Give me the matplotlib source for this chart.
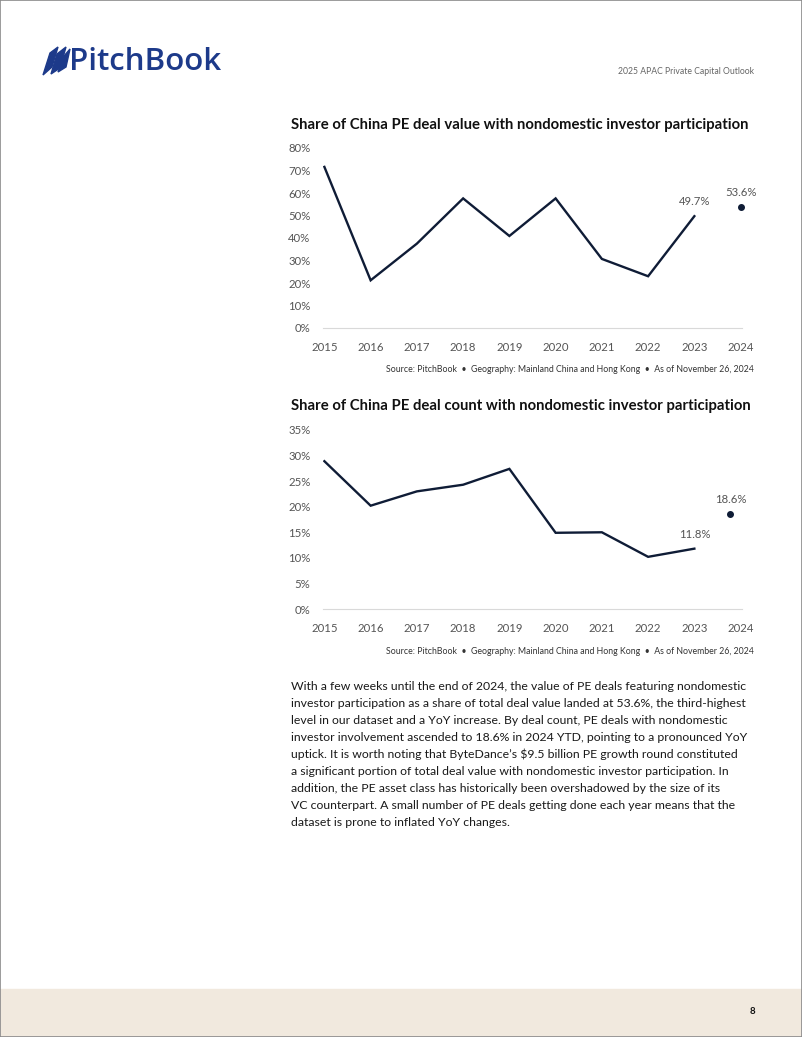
import matplotlib.pyplot as plt
from matplotlib.patches import Rectangle, Polygon
import numpy as np

years = ['2015', '2016', '2017', '2018', '2019', '2020', '2021', '2022', '2023', '2024']
value_share = [71.6, 21.2, 37.5, 57.6, 40.9, 57.6, 30.7, 23.0, 49.7]
value_2024 = 53.6
count_share = [28.9, 20.2, 23.0, 24.3, 27.4, 14.9, 15.0, 10.2, 11.8]
count_2024 = 18.6

source = 'Source: PitchBook  \u2022  Geography: Mainland China and Hong Kong  \u2022  As of November 26, 2024'
body = [
    'With a few weeks until the end of 2024, the value of PE deals featuring nondomestic',
    'investor participation as a share of total deal value landed at 53.6%, the third-highest',
    'level in our dataset and a YoY increase. By deal count, PE deals with nondomestic',
    'investor involvement ascended to 18.6% in 2024 YTD, pointing to a pronounced YoY',
    'uptick. It is worth noting that ByteDance\u2019s $9.5 billion PE growth round constituted',
    'a significant portion of total deal value with nondomestic investor participation. In',
    'addition, the PE asset class has historically been overshadowed by the size of its',
    'VC counterpart. A small number of PE deals getting done each year means that the',
    'dataset is prone to inflated YoY changes.',
]

plt.rcParams['font.family'] = ['Lato', 'DejaVu Sans']
W, H = 802, 1037
navy = '#0f1c36'
grey = '#555555'

fig = plt.figure(figsize=(W / 100, H / 100), dpi=100)


def fx(px):
    return px / W


def fy(py):
    return 1 - py / H


def line_chart(top, bottom, vals, last, ymax, step, last_dx=0.0):
    ax = fig.add_axes([fx(323), fy(bottom), fx(742 - 323), (bottom - top) / H])
    idx = np.arange(len(vals))
    ax.plot(idx, vals, color=navy, lw=1.7, solid_joinstyle='miter')
    ax.plot([len(vals) + last_dx], [last], 'o', color=navy, ms=4, clip_on=False)
    ax.annotate('%.1f%%' % vals[-1], (idx[-1], vals[-1]), xytext=(0, 6.5), textcoords='offset points',
                ha='center', va='bottom', fontsize=8.2, color=grey)
    ax.annotate('%.1f%%' % last, (len(vals) + last_dx, last), xytext=(0, 6.5), textcoords='offset points',
                ha='center', va='bottom', fontsize=8.2, color=grey)
    ax.set_xlim(-0.03, 9.03)
    ax.set_ylim(0, ymax)
    ax.set_xticks(np.arange(len(years)))
    ax.set_xticklabels(years)
    ticks = np.arange(0, ymax + 0.1, step)
    ax.set_yticks(ticks)
    ax.set_yticklabels(['%d%%' % t for t in ticks])
    for s in ['top', 'right', 'left']:
        ax.spines[s].set_visible(False)
    ax.spines['bottom'].set_color('#d9d9d9')
    ax.spines['bottom'].set_linewidth(0.8)
    ax.tick_params(length=0, labelsize=8.2, colors=grey, pad=9)
    ax.tick_params(axis='x', pad=10)
    ax.patch.set_alpha(0)
    return ax


line_chart(148, 328, value_share, value_2024, 80, 10)
line_chart(430, 609, count_share, count_2024, 35, 5, last_dx=-0.22)

titles = [(125, 'Share of China PE deal value with nondomestic investor participation'),
          (406, 'Share of China PE deal count with nondomestic investor participation')]
for ty, t in titles:
    fig.text(fx(291), fy(ty), t, fontsize=10.75, fontweight='bold', color='#111111', va='center')
for sy in [370, 651]:
    fig.text(fx(754), fy(sy), source, fontsize=6.3, color='#333333', ha='right', va='center')

for i, line in enumerate(body):
    fig.text(fx(291), fy(687 + i * 16.9), line, fontsize=8.85, color='#1a1a1a', va='center')

# header
fig.text(fx(754), fy(71), '2025 APAC Private Capital Outlook', fontsize=6.2, color='#666666',
         ha='right', va='center')
logo_blue = '#1d3a8a'
fig.text(fx(69), fy(62), 'PitchBook', fontsize=22.5, color=logo_blue, va='center', fontweight='semibold',
         family=['Open Sans', 'DejaVu Sans'])
sails = [[(43, 75), (50, 53), (58, 47), (52, 67)],
         [(51, 74), (57, 54), (66, 47), (60, 68)],
         [(58, 72), (64, 56), (70, 49), (66, 67)]]
for sail in sails:
    fig.patches.append(Polygon([(fx(x), fy(y)) for x, y in sail], closed=True, color=logo_blue,
                               transform=fig.transFigure))

# footer band
fig.patches.append(Rectangle((0, 0), 1, fy(989), color='#f1e9de', transform=fig.transFigure, zorder=0))
fig.text(fx(752), fy(1012), '8', fontsize=7, color='#111111', ha='center', va='center', fontweight='bold')
fig.patches.append(Rectangle((0, 0), 1, 1, fill=False, ec='#8a8a8a', lw=1.2, transform=fig.transFigure))

fig.savefig('out.png', dpi=100, facecolor='white')
